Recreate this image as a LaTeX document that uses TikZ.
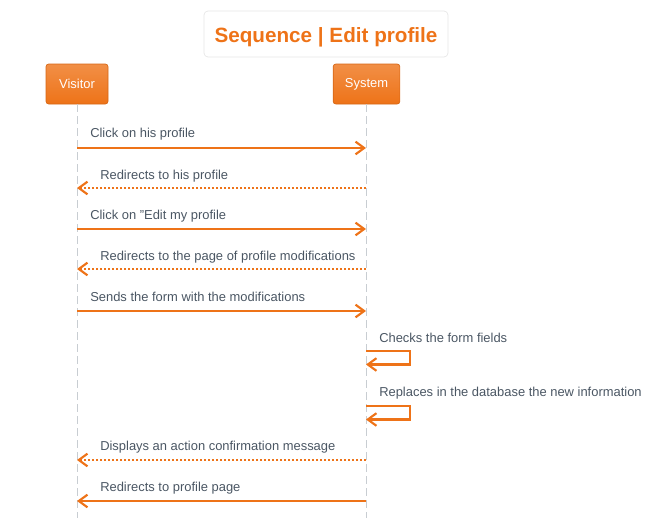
\documentclass[tikz,border=0pt]{standalone}
\usepackage{fontspec}
\setmainfont{Liberation Sans}
\usetikzlibrary{arrows.meta,shadings}
\definecolor{org}{HTML}{EE7318}
\definecolor{txt}{HTML}{4A5663}
\definecolor{lifel}{HTML}{C8CDD2}
\begin{document}
\begin{tikzpicture}[x=0.75pt,y=-0.75pt,
  actor/.style={draw=org!90!black,line width=0.5pt,rounded corners=2pt,top color=org!80!white,bottom color=org,minimum width=46.5pt,minimum height=30pt,inner sep=0pt,font=\fontsize{9.7}{11}\selectfont,text=white},
  lifeline/.style={draw=lifel,line width=0.75pt,dash pattern=on 6pt off 3pt},
  msg/.style={draw=org,line width=2.2pt,-{Straight Barb[length=6.5pt,width=9.5pt,line width=1.6pt]}},
  ret/.style={msg,dash pattern=on 1.7pt off 1.3pt},
  lbl/.style={anchor=base west,inner sep=0pt,text=txt,font=\fontsize{9.7}{11}\selectfont}]
\useasboundingbox (0,0) rectangle (647,526);
\node[draw=black!10,rounded corners=3pt,line width=0.5pt,minimum width=183pt,minimum height=34.5pt] (title) at (326,34) {};
\node[anchor=base,inner sep=0pt,text=org,font=\fontsize{15.5}{18}\bfseries\selectfont] (titletext) at (326,42) {Sequence | Edit profile};
\node[actor] (visitor) at (77,84) {Visitor};
\node[actor,minimum width=50pt] (system) at (366.5,84) {System};
\coordinate (vend) at (77,518);
\coordinate (send) at (366.5,518);
\draw[lifeline] (visitor.south) -- (vend);
\draw[lifeline] (system.south) -- (send);
% message y coordinates
\foreach \n/\y in {1/148,2/188,3/229,4/269,5/311,8/460,9/501}{
  \coordinate (v\n) at (77,\y);
  \coordinate (s\n) at (366,\y);
}
\draw[msg] (v1) -- (s1);
\node[lbl] (t1) at (90,137.5) {Click on his profile};
\draw[ret] (s2) -- (v2);
\node[lbl] (t2) at (100,179) {Redirects to his profile};
\draw[msg] (v3) -- (s3);
\node[lbl] (t3) at (90,219.5) {Click on "Edit my profile};
\draw[ret] (s4) -- (v4);
\node[lbl] (t4) at (100,260.5) {Redirects to the page of profile modifications};
\draw[msg] (v5) -- (s5);
\node[lbl] (t5) at (90,301.5) {Sends the form with the modifications};
% self messages
\coordinate (a1) at (366,351);
\coordinate (a2) at (410,351);
\coordinate (a3) at (410,364.5);
\coordinate (a4) at (366,364.5);
\draw[msg] (a1) -- (a2) -- (a3) -- (a4);
\node[lbl] (t6) at (379,342) {Checks the form fields};
\coordinate (b1) at (366,406);
\coordinate (b2) at (410,406);
\coordinate (b3) at (410,419.5);
\coordinate (b4) at (366,419.5);
\draw[msg] (b1) -- (b2) -- (b3) -- (b4);
\node[lbl] (t7) at (379,396.5) {Replaces in the database the new information};
\draw[ret] (s8) -- (v8);
\node[lbl] (t8) at (100,450.5) {Displays an action confirmation message};
\draw[msg] (s9) -- (v9);
\node[lbl] (t9) at (100,491) {Redirects to profile page};
\end{tikzpicture}
\end{document}
